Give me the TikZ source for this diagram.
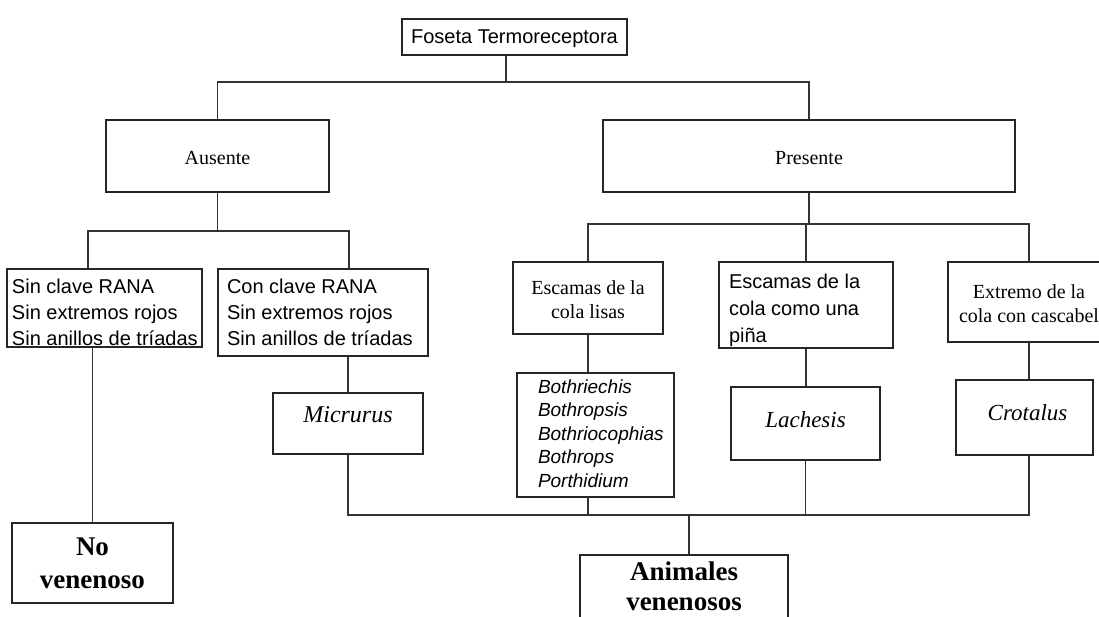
\documentclass[tikz,border=0pt]{standalone}
\usepackage{fontspec}
\setmainfont{Liberation Serif}
\setsansfont{Liberation Sans}
\usepackage{graphicx}
\begin{document}
% width, height, first baseline from top, alignment, content
\newcommand\cellbox[5]{\parbox[c][#2][t]{#1}{#4\rule{0pt}{#3}#5}}
\tikzset{
  box/.style={draw=black!85, line width=1.6pt, inner sep=0pt, rectangle, fill=white},
  link/.style={draw=black!80, line width=1.6pt},
  sans20/.style={font=\sffamily\fontsize{20}{26}\selectfont},
  serif20/.style={font=\rmfamily\fontsize{20}{24.5}\selectfont},
}
\begin{tikzpicture}[x=1pt,y=-1pt]
\useasboundingbox (0,0) rectangle (1099,616);
\fill[white] (0,0) rectangle (1099,616);
\clip (0,0) rectangle (1099,616);

% nodes
\node[box, font=\sffamily\fontsize{20}{24}\selectfont] (fos) at (514.5,37)
  {\cellbox{225pt}{36pt}{24pt}{\centering}{Foseta Termoreceptora}};
\node[box, serif20] (aus) at (217.5,156)
  {\cellbox{223pt}{72pt}{44pt}{\centering}{Ausente}};
\node[box, serif20] (pre) at (809,156)
  {\cellbox{412pt}{72pt}{44pt}{\centering}{Presente}};
\node[box, sans20] (sin) at (104.5,308)
  {\cellbox{195pt}{78pt}{24pt}{\raggedright\leftskip=5pt}{\mbox{Sin clave RANA}\\\mbox{Sin extremos rojos}\\\mbox{Sin anillos de tríadas}}};
\node[box, sans20] (con) at (323,312.5)
  {\cellbox{210pt}{87pt}{24pt}{\raggedright\leftskip=9pt}{\mbox{Con clave RANA}\\\mbox{Sin extremos rojos}\\\mbox{Sin anillos de tríadas}}};
\node[box, serif20] (lis) at (588,298)
  {\cellbox{150pt}{72pt}{32pt}{\centering}{\mbox{Escamas de la}\\\mbox{cola lisas}}};
\node[box, font=\sffamily\fontsize{20}{27}\selectfont] (pin) at (806,305)
  {\cellbox{174pt}{86pt}{26pt}{\raggedright\leftskip=10pt}{\mbox{Escamas de la}\\\mbox{cola como una}\\\mbox{piña}}};
\node[box, font=\rmfamily\fontsize{20}{24}\selectfont] (ext) at (1029,302)
  {\cellbox{162pt}{80pt}{36pt}{\centering}{\mbox{Extremo de la}\\\mbox{cola con cascabel}}};
\node[box, font=\sffamily\itshape\fontsize{19}{23.5}\selectfont] (bot) at (595.5,435)
  {\cellbox{157pt}{124pt}{20pt}{\raggedright\leftskip=21pt}{\mbox{Bothriechis}\\\mbox{Bothropsis}\\\mbox{Bothriocophias}\\\mbox{Bothrops}\\\mbox{Porthidium}}};
\node[box, font=\rmfamily\itshape\fontsize{23}{27}\selectfont] (lac) at (805.5,423.5)
  {\cellbox{149pt}{73pt}{40pt}{\centering}{Lachesis}};
\node[box, font=\rmfamily\itshape\fontsize{23}{27}\selectfont] (cro) at (1024.5,417.5)
  {\cellbox{137pt}{75pt}{40pt}{\centering}{\hspace*{6pt}Crotalus}};
\node[box, font=\rmfamily\itshape\fontsize{24}{28}\selectfont] (mic) at (348,423.5)
  {\cellbox{150pt}{61pt}{29pt}{\centering}{Micrurus}};
\node[box, font=\rmfamily\bfseries\fontsize{27}{33}\selectfont] (nov) at (92.5,563)
  {\cellbox{161pt}{80pt}{32pt}{\centering}{No\\venenoso}};
\node[box, font=\rmfamily\bfseries\fontsize{27}{30}\selectfont] (ani) at (684,590)
  {\cellbox{208pt}{70pt}{25pt}{\centering}{Animales\\venenosos}};

% bus coordinates
\coordinate (bus1) at (0,82);
\coordinate (bus2) at (0,231);
\coordinate (bus3) at (0,224);
\coordinate (bus4) at (0,515);
\coordinate (fstem) at ([xshift=-8.5pt]fos.south);
\coordinate (sinb) at ([xshift=-16.5pt]sin.north);
\coordinate (conb) at ([xshift=26pt]con.north);

% level 1
\draw[link] (fstem) -- (fstem |- bus1);
\draw[link] (aus.north) |- (bus1 -| pre.north) -- (pre.north);
% level 2 left
\draw[link] (aus.south) -- (aus.south |- bus2);
\draw[link] (sinb) |- (bus2 -| conb) -- (conb);
% level 2 right
\draw[link] (pre.south) -- (pre.south |- bus3);
\draw[link] (lis.north) |- (bus3 -| ext.north) -- (ext.north);
\draw[link] (pin.north) -- (pin.north |- bus3);
% level 3
\draw[link] (nov.north) -- (nov.north |- sin.south);
\draw[link] (mic.north) -- (mic.north |- con.south);
\draw[link] (lis.south) -- (lis.south |- bot.north);
\draw[link] (pin.south) -- (pin.south |- lac.north);
\draw[link] (ext.south) -- (ext.south |- cro.north);
% bottom bus
\draw[link] (mic.south) |- (bus4 -| ext.south) -- (ext.south |- cro.south);
\draw[link] (lis.south |- bot.south) -- (lis.south |- bus4);
\draw[link] (lac.south) -- (lac.south |- bus4);
\draw[link] ([xshift=5pt]ani.north) -- ([xshift=5pt]ani.north |- bus4);
\end{tikzpicture}
\end{document}
